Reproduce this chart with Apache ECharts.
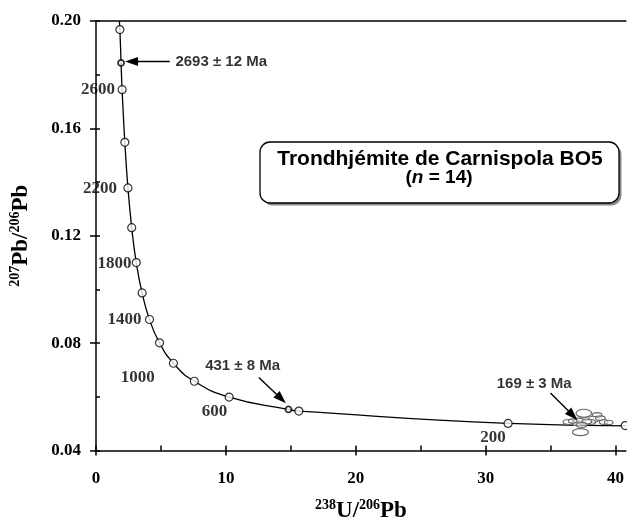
<!DOCTYPE html>
<html>
<head>
<meta charset="utf-8">
<script src="https://cdn.jsdelivr.net/npm/echarts@6.0.0/dist/echarts.min.js"></script>
<style>
  html, body { margin: 0; padding: 0; background: #fff; }
  #main { width: 627px; height: 528px; }
</style>
</head>
<body>
<div id="main"></div>
<script>
// concordia curve (x = 238U/206Pb, y = 207Pb/206Pb)
const curveX = [1.80, 1.84, 1.93, 2.01, 2.22, 2.46, 2.75, 3.10, 3.55, 4.12, 4.89, 5.96, 7.57, 10.25, 14.82, 15.62, 31.73, 40.8];
const curveY = [0.2000, 0.1968, 0.1844, 0.1744, 0.1548, 0.1378, 0.1230, 0.1100, 0.0987, 0.0888, 0.0801, 0.0725, 0.0658, 0.0599, 0.0553, 0.0547, 0.0501, 0.0492];

// age ticks on the concordia (every 200 Ma)
const ageX = [1.84, 2.01, 2.22, 2.46, 2.75, 3.10, 3.55, 4.12, 4.89, 5.96, 7.57, 10.25, 15.62, 31.73, 40.75];
const ageY = [0.1968, 0.1744, 0.1548, 0.1378, 0.1230, 0.1100, 0.0987, 0.0888, 0.0801, 0.0725, 0.0658, 0.0599, 0.0547, 0.0501, 0.0493];

// intercepts (small dots)
const interceptX = [1.93, 14.82];
const interceptY = [0.1844, 0.0553];

// age labels next to concordia
const ageLabels = ["2600", "2200", "1800", "1400", "1000", "600", "200"];
const ageLabelX = [1.46, 1.61, 2.74, 3.51, 4.53, 10.11, 31.54];
const ageLabelY = [0.1745, 0.1377, 0.1096, 0.0886, 0.0672, 0.0546, 0.0449];

// error ellipses of the 14 analyses (centre, half widths)
const ellX = [37.56, 37.30, 36.40, 37.04, 37.17, 38.58, 38.33, 38.84, 39.09, 38.07, 36.71, 37.79, 39.48, 37.40];
const ellY = [0.05387, 0.04682, 0.05064, 0.05016, 0.05113, 0.05324, 0.05165, 0.05202, 0.05064, 0.05064, 0.05101, 0.05083, 0.05046, 0.04953];
const ellRx = [0.60, 0.62, 0.44, 0.40, 0.40, 0.37, 0.40, 0.37, 0.33, 0.40, 0.33, 0.37, 0.33, 0.40];
const ellRy = [0.0015, 0.0013, 0.0009, 0.0009, 0.0009, 0.0009, 0.0011, 0.0009, 0.0009, 0.0009, 0.0008, 0.0009, 0.0008, 0.0009];

// annotations
const annotTexts = ["2693 ± 12 Ma", "431 ± 8 Ma", "169 ± 3 Ma"];
const annotX = [9.64, 11.29, 33.74];
const annotY = [0.1849, 0.0717, 0.0647];
const arrowFrom = [[5.68, 0.1849], [12.54, 0.0672], [34.99, 0.0614]];
const arrowTo = [[2.74, 0.1849], [14.26, 0.0593], [36.71, 0.0531]];

// axis ticks
const xMajor = [0, 10, 20, 30, 40];
const xMinor = [0, 5, 10, 15, 20, 25, 30, 35, 40];
const yMajor = [0.04, 0.08, 0.12, 0.16, 0.20];
const yMinor = [0.04, 0.06, 0.08, 0.10, 0.12, 0.14, 0.16, 0.18, 0.20];

const serif = "Liberation Serif";
const sans = "Liberation Sans";

var myChart = echarts.init(document.getElementById("main"));

const axisLine = { lineStyle: { color: "#000", width: 1.5 } };
const tickStyle = { color: "#000", width: 1.5 };

const nameRich = {
  b: { fontFamily: serif, fontWeight: "bold", fontSize: 23, color: "#000", lineHeight: 26 },
  sup: { fontFamily: serif, fontWeight: "bold", fontSize: 14, color: "#000", verticalAlign: "top", lineHeight: 26, padding: [0, 0, 10, 0] },
};

const plainLabel = { color: "#000", textBorderColor: "transparent", textBorderWidth: 0 };

var option = {
  animation: false,
  grid: { left: 96, right: 0, top: 21, bottom: 75 },
  xAxis: [
    {
      type: "value", min: 0, max: 40.8, position: "bottom",
      axisLine: axisLine,
      axisTick: { show: true, inside: false, length: 5, lineStyle: tickStyle, customValues: xMajor },
      axisLabel: { customValues: xMajor, margin: 20, color: "#000", fontFamily: serif, fontWeight: "bold", fontSize: 17 },
      splitLine: { show: false },
      name: "{sup|238}{b|U/}{sup|206}{b|Pb}",
      nameLocation: "middle",
      nameGap: 48,
      nameTextStyle: { rich: nameRich },
    },
    {
      type: "value", min: 0, max: 40.8, position: "bottom",
      axisLine: { show: false },
      axisTick: { show: true, inside: true, length: 5, lineStyle: tickStyle, customValues: xMinor },
      axisLabel: { show: false },
      splitLine: { show: false },
    },
    {
      type: "value", min: 0, max: 40.8, position: "top",
      axisLine: axisLine,
      axisTick: { show: false },
      axisLabel: { show: false },
      splitLine: { show: false },
    },
  ],
  yAxis: [
    {
      type: "value", min: 0.04, max: 0.20, position: "left",
      axisLine: axisLine,
      axisTick: { show: true, inside: false, length: 6, lineStyle: tickStyle, customValues: yMajor },
      axisLabel: {
        customValues: yMajor, margin: 15, color: "#000", fontFamily: serif, fontWeight: "bold", fontSize: 17,
        formatter: function (v) { return v.toFixed(2); },
      },
      splitLine: { show: false },
      name: "{sup|207}{b|Pb/}{sup|206}{b|Pb}",
      nameLocation: "middle",
      nameRotate: 90,
      nameGap: 62,
      nameTextStyle: { rich: nameRich },
    },
    {
      type: "value", min: 0.04, max: 0.20, position: "left",
      axisLine: { show: false },
      axisTick: { show: true, inside: true, length: 4, lineStyle: tickStyle, customValues: yMinor },
      axisLabel: { show: false },
      splitLine: { show: false },
    },
  ],
  graphic: [
    { type: "rect", shape: { x: 262.5, y: 144.5, width: 359, height: 61, r: 10 }, style: { fill: "#8a8a8a" }, z: 10 },
    { type: "rect", shape: { x: 260, y: 142, width: 359, height: 61, r: 10 }, style: { fill: "#fff", stroke: "#000", lineWidth: 1.3 }, z: 11 },
    {
      type: "text", x: 440, y: 159, z: 12,
      style: { text: "Trondhjémite de Carnispola BO5", fontFamily: sans, fontWeight: "bold", fontSize: 21, fill: "#000", align: "center", verticalAlign: "middle" },
    },
    {
      type: "text", x: 439, y: 178, z: 12,
      style: {
        text: "{a|(}{i|n}{a| = 14)}", align: "center", verticalAlign: "middle",
        rich: {
          a: { fontFamily: sans, fontWeight: "bold", fontSize: 19, fill: "#000" },
          i: { fontFamily: sans, fontWeight: "bold", fontStyle: "italic", fontSize: 19, fill: "#000" },
        },
      },
    },
  ],
  series: [
    {
      type: "custom",
      name: "ellipses",
      coordinateSystem: "cartesian2d",
      silent: true,
      z: 3,
      data: ellX.map((x, i) => [x, ellY[i], ellRx[i], ellRy[i]]),
      renderItem: function (params, api) {
        var c = api.coord([api.value(0), api.value(1)]);
        var s = api.size([api.value(2), api.value(3)]);
        return {
          type: "ellipse",
          shape: { cx: c[0], cy: c[1], rx: s[0], ry: s[1] },
          style: { fill: "rgba(255,255,255,0.5)", stroke: "#6a6a6a", lineWidth: 1.2 },
        };
      },
    },
    {
      type: "line",
      name: "concordia",
      data: curveX.map((x, i) => [x, curveY[i]]),
      smooth: 0.5,
      showSymbol: false,
      silent: true,
      z: 2,
      lineStyle: { color: "#000", width: 1.3 },
      markLine: {
        silent: true,
        symbol: ["none", "triangle"],
        symbolSize: [9, 13],
        label: { show: false },
        lineStyle: { color: "#000", width: 1.4, type: "solid" },
        data: arrowFrom.map((p, i) => [{ coord: p }, { coord: arrowTo[i] }]),
      },
    },
    {
      type: "scatter",
      name: "ages",
      data: ageX.map((x, i) => [x, ageY[i]]),
      symbol: "circle",
      symbolSize: 8,
      silent: true,
      z: 4,
      itemStyle: { color: "#fff", borderColor: "#000", borderWidth: 1.2 },
    },
    {
      type: "scatter",
      name: "intercepts",
      data: interceptX.map((x, i) => [x, interceptY[i]]),
      symbol: "circle",
      symbolSize: 6,
      silent: true,
      z: 4,
      itemStyle: { color: "#fff", borderColor: "#000", borderWidth: 1.8 },
    },
    {
      type: "scatter",
      name: "ageLabels",
      data: ageLabelX.map((x, i) => ({ value: [x, ageLabelY[i]], name: ageLabels[i] })),
      symbolSize: 0,
      silent: true,
      z: 5,
      label: Object.assign({
        show: true, position: "inside", align: "right", verticalAlign: "middle",
        formatter: "{b}", fontFamily: serif, fontWeight: "bold", fontSize: 17,
      }, plainLabel),
    },
    {
      type: "scatter",
      name: "annotations",
      data: annotX.map((x, i) => ({ value: [x, annotY[i]], name: annotTexts[i] })),
      symbolSize: 0,
      silent: true,
      z: 5,
      label: Object.assign({
        show: true, position: "inside", align: "center", verticalAlign: "middle",
        formatter: "{b}", fontFamily: sans, fontWeight: "bold", fontSize: 15,
      }, plainLabel),
    },
  ],
};

option && myChart.setOption(option);
</script>
</body>
</html>
